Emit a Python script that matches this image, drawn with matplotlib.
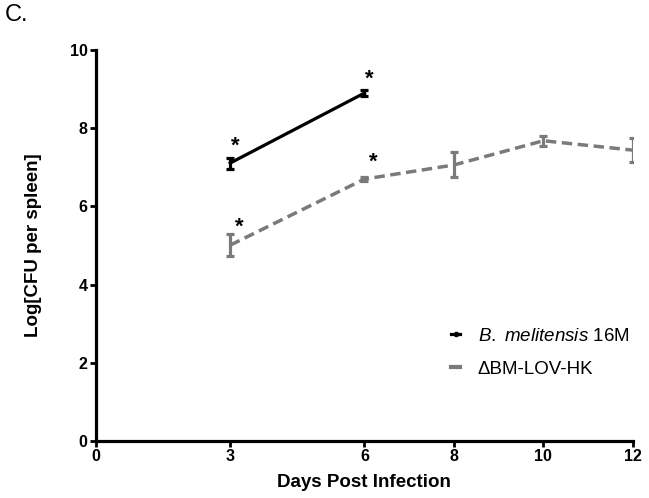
import numpy as np
import matplotlib
matplotlib.use("Agg")
import matplotlib.pyplot as plt
from matplotlib.lines import Line2D

plt.rcParams['font.family'] = ['Liberation Sans', 'DejaVu Sans']
plt.rcParams['mathtext.fontset'] = 'custom'
plt.rcParams['mathtext.it'] = 'Liberation Sans:italic'
plt.rcParams['mathtext.rm'] = 'Liberation Sans'

# data
days_wt = [3, 6]
cfu_wt = [7.11, 8.9]
err_wt = [0.14, 0.07]

days_mut = [3, 6, 8, 10, 12]
cfu_mut = [5.01, 6.70, 7.06, 7.68, 7.44]
err_mut = [0.28, 0.05, 0.32, 0.13, 0.31]

# significance marks (days)
stars_wt = [3, 6]
stars_mut = [3, 6]

xticks = [0, 3, 6, 8, 10, 12]
yticks = [0, 2, 4, 6, 8, 10]

gray = "#7a7a7a"
dash = (0, (3, 1.6))

fig = plt.figure(figsize=(6.49, 4.98), dpi=100)
ax = fig.add_axes([0.148, 0.1145, 0.827, 0.785])

ax.errorbar(days_wt, cfu_wt, yerr=err_wt, color="black", lw=2.3,
            capsize=3, capthick=2.3, elinewidth=2.3)
ax.errorbar(days_mut, cfu_mut, yerr=err_mut, color=gray, lw=2.5,
            ls=dash, capsize=3, capthick=2.3, elinewidth=2.3)

for d in stars_wt:
    i = days_wt.index(d)
    ax.text(d + 0.12, cfu_wt[i] + err_wt[i] + 0.02, "*", fontsize=16,
            fontweight="bold", ha="center", va="bottom")
for d in stars_mut:
    i = days_mut.index(d)
    off = 0.12 if d == 6 else -0.1
    ax.text(d + 0.2, cfu_mut[i] + err_mut[i] + off,
            "*", fontsize=16, fontweight="bold", ha="center", va="bottom")

ax.set_xlim(0, 12)
ax.set_ylim(0, 10)
ax.set_xticks(xticks)
ax.set_yticks(yticks)
for lab in ax.get_xticklabels() + ax.get_yticklabels():
    lab.set_fontweight("bold")
    lab.set_fontsize(11.5)
ax.tick_params(direction="out", length=4, width=2, pad=2)

for s in ["top", "right"]:
    ax.spines[s].set_visible(False)
for s in ["left", "bottom"]:
    ax.spines[s].set_linewidth(2.3)

ax.set_xlabel("Days Post Infection", fontsize=13.5, fontweight="bold", labelpad=7)
ax.set_ylabel("Log[CFU per spleen]", fontsize=13.5, fontweight="bold", labelpad=20)

handles = [Line2D([], [], color="black", lw=2.3, marker="o", markersize=3,
                  markevery=[1]),
           Line2D([], [], color=gray, lw=3.0)]
labels = [r"$\mathit{B.}$ $\mathit{melitensis}$ 16M", "\u0394BM-LOV-HK"]
ax.legend(handles, labels, loc="upper left", bbox_to_anchor=(0.662, 0.29),
          frameon=False, fontsize=13.5, handlelength=0.45, handletextpad=0.95,
          labelspacing=0.85, borderpad=0, borderaxespad=0)

fig.text(0.008, 0.97, "C.", fontsize=17, ha="left", va="center")

fig.savefig("out.png", dpi=100)
